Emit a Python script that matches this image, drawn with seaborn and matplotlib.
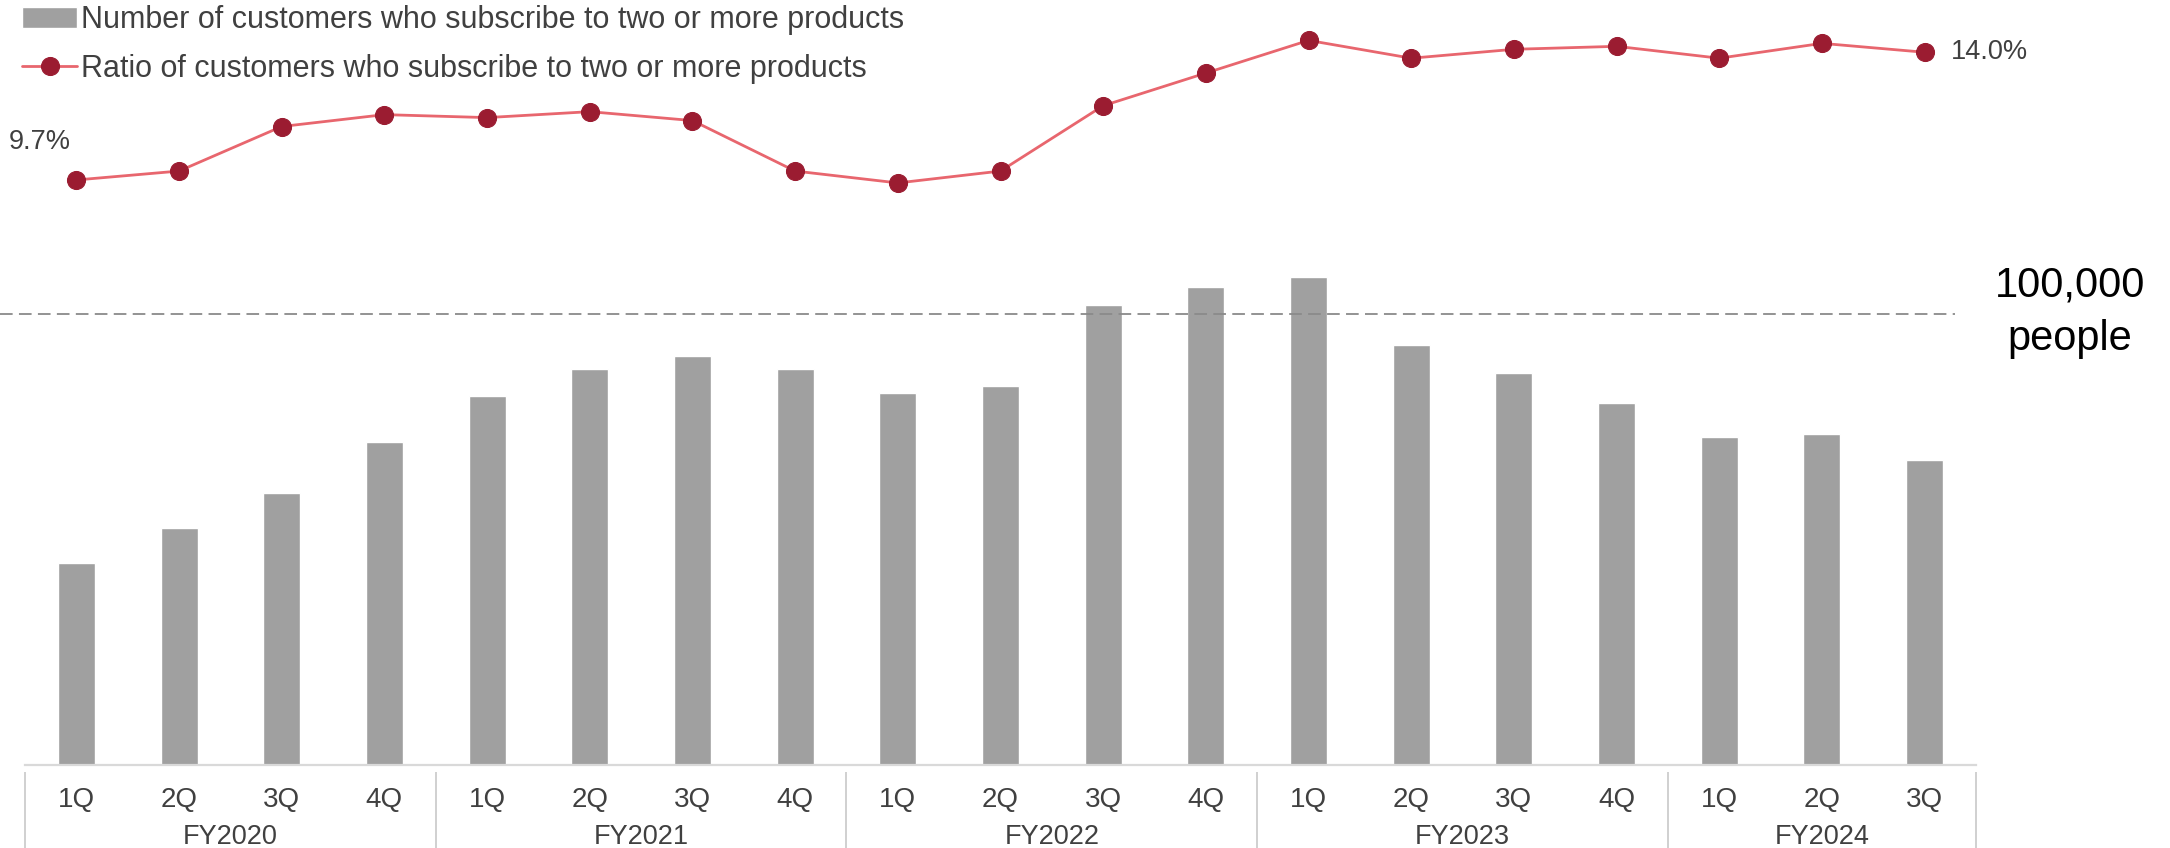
import matplotlib
matplotlib.use("Agg")
import matplotlib.pyplot as plt
from matplotlib import font_manager
from matplotlib.transforms import blended_transform_factory
import seaborn as sns
import pandas as pd

# ---- data -------------------------------------------------------------
fiscal_years = ["FY2020", "FY2021", "FY2022", "FY2023", "FY2024"]
quarters_per_year = [4, 4, 4, 4, 3]
quarter_labels = ["1Q", "2Q", "3Q", "4Q",
                  "1Q", "2Q", "3Q", "4Q",
                  "1Q", "2Q", "3Q", "4Q",
                  "1Q", "2Q", "3Q", "4Q",
                  "1Q", "2Q", "3Q"]
multi_product_customers = [44700, 52500, 60400, 71700,
                           81700, 87700, 90700, 87700,
                           82400, 84000, 102000, 106000,
                           108200, 93100, 86900, 80200,
                           72700, 73400, 67600]
multi_product_ratio = [9.7, 10.0, 11.5, 11.9,
                       11.8, 12.0, 11.7, 10.0,
                       9.6, 10.0, 12.2, 13.3,
                       14.4, 13.8, 14.1, 14.2,
                       13.8, 14.3, 14.0]
reference_level = 100000
bar_label = "Number of customers who subscribe to two or more products"
line_label = "Ratio of customers who subscribe to two or more products"


def pick_font(name, fallback):
    try:
        font_manager.findfont(name, fallback_to_default=False)
        return name
    except Exception:
        return fallback


sns.set_theme(style="white")
MAIN = pick_font("Liberation Sans", "DejaVu Sans")
plt.rcParams["font.family"] = [MAIN, "DejaVu Sans"]

BAR_COLOR = "#a0a0a0"
LINE_COLOR = "#e8666e"
MARKER_COLOR = "#9b1c31"
TEXT_COLOR = "#404040"

n = len(quarter_labels)
df = pd.DataFrame({
    "pos": list(range(n)),
    "quarter": [f"{q}-{i}" for i, q in enumerate(quarter_labels)],
    "customers": multi_product_customers,
    "ratio": multi_product_ratio,
})

W, H = 2170, 848
fig = plt.figure(figsize=(W / 100, H / 100), dpi=100)
ax = fig.add_axes([25 / W, 83 / H, 1951 / W, 765 / H])

# ---- bars -------------------------------------------------------------
sns.barplot(data=df, x="quarter", y="customers", ax=ax, color=BAR_COLOR,
            saturation=1, width=0.36, label=bar_label)
if ax.get_legend() is not None:
    ax.get_legend().remove()
ax.set_xlim(-0.5, n - 0.5)
ax.set_ylim(0, 169600)
ax.set_xlabel("")
ax.set_ylabel("")
ax.set_yticks([])
ax.set_xticks(range(n))
ax.set_xticklabels(quarter_labels, fontsize=20, color=TEXT_COLOR)
ax.tick_params(axis="x", length=0, pad=16)
for side in ("top", "left", "right"):
    ax.spines[side].set_visible(False)
ax.spines["bottom"].set_color("#d9d9d9")
ax.spines["bottom"].set_linewidth(1.6)

# dashed reference line at 100,000 people
ax.axhline(reference_level, xmin=-25 / 1951, xmax=1930 / 1951, clip_on=False,
           color="#8a8a8a", linewidth=1.3, dashes=(7, 3.5), zorder=3)
fig.text(2070 / W, 1 - 297 / H, f"{reference_level:,}", ha="center",
         va="baseline", fontsize=30, color="black", family=MAIN)
fig.text(2070 / W, 1 - 350 / H, "people", ha="center",
         va="baseline", fontsize=30, color="black", family=MAIN)

# fiscal-year group labels and separators below the axis
trans = blended_transform_factory(ax.transData, ax.transAxes)
start = 0
bounds = [-0.5]
for fy, cnt in zip(fiscal_years, quarters_per_year):
    mid = start + (cnt - 1) / 2
    ax.text(mid, -72 / 765, fy, transform=trans, ha="center", va="center",
            fontsize=19.5, color=TEXT_COLOR)
    start += cnt
    bounds.append(start - 0.5)
ax.vlines(bounds, -7 / 765, -83 / 765, transform=trans, clip_on=False,
          color="#c8c8c8", linewidth=1.2)

# ---- ratio line -------------------------------------------------------
ax2 = ax.twinx()
sns.lineplot(data=df, x="pos", y="ratio", ax=ax2, color=LINE_COLOR,
             linewidth=2.0, marker="o", markersize=13,
             markerfacecolor=MARKER_COLOR, markeredgecolor=MARKER_COLOR,
             label=line_label, legend=False)
ax2.set_ylim(-10.0, 15.76)
ax2.set_xlim(-0.5, n - 0.5)
ax2.set_yticks([])
ax2.set_xlabel("")
ax2.set_ylabel("")
for side in ("top", "left", "right", "bottom"):
    ax2.spines[side].set_visible(False)

ax2.annotate(f"{multi_product_ratio[0]:.1f}%", (0, multi_product_ratio[0]),
             xytext=(-26, 27), textcoords="offset points", ha="center",
             va="center", fontsize=19.5, color=TEXT_COLOR)
ax2.annotate(f"{multi_product_ratio[-1]:.1f}%", (n - 1, multi_product_ratio[-1]),
             xytext=(19, 0), textcoords="offset points", ha="left",
             va="center", fontsize=19.5, color=TEXT_COLOR)

# ---- legend -----------------------------------------------------------
h1, l1 = ax.get_legend_handles_labels()
h2, l2 = ax2.get_legend_handles_labels()
leg = fig.legend(h1[:1] + h2, [bar_label, line_label], loc="upper left",
                 bbox_to_anchor=(22 / W, 1 - 5 / H), frameon=False,
                 fontsize=22, handlelength=1.8, handletextpad=0.12,
                 labelspacing=0.62, borderpad=0, borderaxespad=0)
for t in leg.get_texts():
    t.set_color(TEXT_COLOR)

fig.savefig("out.png", dpi=100)
